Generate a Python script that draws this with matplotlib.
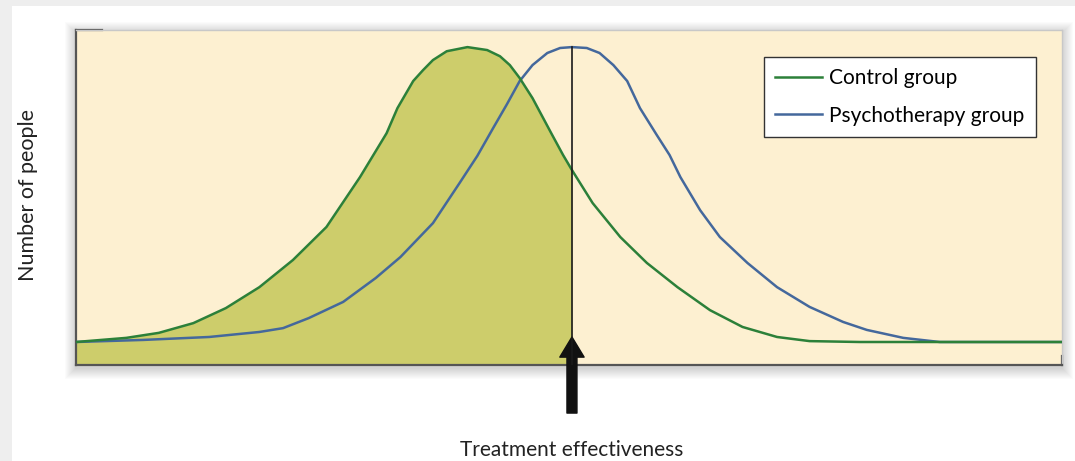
import matplotlib.pyplot as plt
from matplotlib.patches import Rectangle

plt.rcParams['font.family'] = ['Lato', 'DejaVu Sans']

# Effectiveness scores (0-100) and number of people (peak = 100)
control_x = [0, 5.1, 8.4, 11.9, 15.2, 18.6, 22.0, 25.4, 28.8, 31.5, 32.6, 34.2,
             35.2, 36.2, 37.6, 39.7, 41.7, 43.0, 44.0, 45.0, 46.3, 48.2, 49.4,
             50.3, 52.4, 55.2, 57.9, 61.0, 64.3, 67.6, 71.1, 74.4, 79.5, 100]
control_y = [0, 1.4, 3.1, 6.4, 11.5, 18.6, 27.8, 39.0, 55.9, 70.8, 79.3, 88.5,
             92.2, 95.6, 98.6, 100, 99.0, 96.9, 93.9, 89.5, 82.7, 70.8, 63.4,
             58.3, 47.1, 35.6, 26.8, 18.6, 10.8, 5.1, 1.7, 0.3, 0, 0]

therapy_x = [0, 6.8, 13.5, 18.6, 21.0, 23.6, 27.1, 30.4, 32.9, 36.2, 38.9, 40.7,
             42.3, 43.7, 45.0, 46.3, 47.8, 49.1, 50.3, 51.8, 53.1, 54.5, 55.9,
             57.2, 58.9, 60.2, 61.3, 63.3, 65.3, 68.1, 71.1, 74.4, 77.8, 80.2,
             83.9, 87.6, 100]
therapy_y = [0, 0.7, 1.7, 3.4, 4.7, 8.1, 13.6, 21.7, 28.8, 40.3, 53.9, 63.1,
             72.5, 80.6, 88.5, 93.9, 98.0, 99.7, 100, 99.7, 98.0, 93.9, 88.5,
             79.3, 70.2, 63.4, 55.9, 44.7, 35.6, 26.8, 18.6, 11.9, 6.8, 4.1,
             1.4, 0, 0]

cutoff = 50.3   # mean of the psychotherapy group

fig = plt.figure(figsize=(10.75, 4.61), dpi=100, facecolor='white')

# light grey frame around the page
fig.patches.append(Rectangle((0, 1 - 6 / 461), 1, 6 / 461, transform=fig.transFigure,
                             facecolor='#eeeeee', edgecolor='none', zorder=-5))
fig.patches.append(Rectangle((0, 0), 12 / 1075, 1, transform=fig.transFigure,
                             facecolor='#eeeeee', edgecolor='none', zorder=-5))

left, bottom, width, height = 76 / 1075, 96 / 461, 986 / 1075, 335 / 461
# soft drop shadow behind the plot box
for i in range(1, 12):
    dx, dy = i / 1075, i / 461
    fig.patches.append(Rectangle((left - dx, bottom - dy - 3 / 461), width + 2 * dx,
                                 height + 2 * dy, transform=fig.transFigure,
                                 facecolor='#000000', alpha=0.015, edgecolor='none',
                                 zorder=-2))

ax = fig.add_axes([left, bottom, width, height])
ax.set_facecolor('#fdf0d1')
ax.set_xlim(0, 100)
ax.set_ylim(-7.8, 105.8)

# shaded area: control group below the therapy mean
n_fill = control_x.index(cutoff) + 1
ax.fill_between(control_x[:n_fill], -7.8, control_y[:n_fill], color='#cdcd6b', lw=0)

ax.plot(therapy_x, therapy_y, color='#44689c', lw=1.8, label='Psychotherapy group',
        solid_joinstyle='round', zorder=3)
ax.plot(control_x, control_y, color='#2c8039', lw=1.8, label='Control group',
        solid_joinstyle='round', zorder=4)

ax.plot([cutoff, cutoff], [-7.8, 100], color='#1a1a1a', lw=1.2, zorder=5)

handles, labels = ax.get_legend_handles_labels()
leg = ax.legend(handles[::-1], labels[::-1], loc='upper right',
                bbox_to_anchor=(0.9736, 0.9194), borderaxespad=0, fontsize=15,
                fancybox=False, framealpha=1, edgecolor='#333333',
                handlelength=2.25, handletextpad=0.35, labelspacing=0.82,
                borderpad=0.55)
leg.get_frame().set_linewidth(1.0)

ax.set_xticks([])
ax.set_yticks([])
for side in ['left', 'bottom']:
    ax.spines[side].set_color('#555555')
    ax.spines[side].set_linewidth(1.6)
for side in ['top', 'right']:
    ax.spines[side].set_color('#c8c8c8')
    ax.spines[side].set_linewidth(1.0)
ax.plot([0, 0.026], [1, 1], transform=ax.transAxes, color='#555555', lw=1.6, clip_on=False)
ax.plot([1, 1], [0, 0.027], transform=ax.transAxes, color='#555555', lw=1.6, clip_on=False)

# arrow pointing at the therapy mean
ax.annotate('', xy=(cutoff, 1.7), xytext=(cutoff, -24.1), annotation_clip=False,
            arrowprops=dict(arrowstyle='simple,head_width=1.75,head_length=1.45,tail_width=0.72',
                            color='#111111', shrinkA=0, shrinkB=0, mutation_scale=10))

fig.text(572 / 1075, 1 - 450 / 461, 'Treatment effectiveness', ha='center', va='center',
         fontsize=15, color='#222222')
fig.text(28 / 1075, 1 - 195 / 461, 'Number of people', ha='center', va='center',
         rotation=90, fontsize=15.5, color='#222222')

fig.savefig('out.png', dpi=100, facecolor='white')
